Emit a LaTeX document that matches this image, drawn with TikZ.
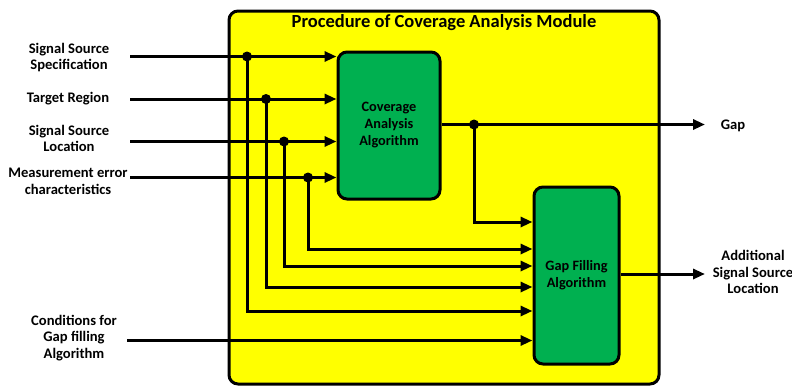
\documentclass[tikz,border=0pt]{standalone}
\usepackage{fontspec}
\setmainfont{Carlito}
\usetikzlibrary{arrows.meta}
\definecolor{ybg}{HTML}{FFFF00}
\definecolor{gbox}{HTML}{00B050}
\tikzset{
  lbl/.style={font=\bfseries\fontsize{14.6}{16.5}\selectfont, align=center, inner sep=0pt},
  algo/.style={draw=black, line width=3pt, fill=gbox, rounded corners=9pt, minimum width=#1, inner sep=0pt, font=\bfseries\fontsize{14.3}{17}\selectfont, align=center},
  conn/.style={line width=3pt, -{Triangle[length=12pt,width=10pt]}},
  jdot/.style={circle, fill=black, inner sep=0pt, minimum size=10pt},
}
\begin{document}
\begin{tikzpicture}[x=1pt,y=-1pt]
\useasboundingbox (0,0) rectangle (792,386);
% module frame
\node[draw=black, line width=3pt, fill=ybg, rounded corners=9pt, minimum width=430pt, minimum height=373pt, inner sep=0pt] (mod) at (444,197.5) {};
\node[font=\bfseries\fontsize{18.5}{21}\selectfont, inner sep=0pt] (title) at (444,23) {Procedure of Coverage Analysis Module};
% algorithm boxes
\node[algo=102pt, minimum height=147pt] (b1) at (389,125.5) {Coverage\\Analysis\\Algorithm};
\node[algo=85pt, minimum height=177pt] (b2) at (576.5,275.5) {Gap Filling\\Algorithm};
% input labels
\node[lbl] (l1) at (69,57.5) {Signal Source\\Specification};
\node[lbl] (l2) at (68,99) {Target Region};
\node[lbl] (l3) at (69,138.5) {Signal Source\\Location};
\node[lbl] (l4) at (68,181.5) {Measurement error\\characteristics};
\node[lbl] (l5) at (74,338) {Conditions for\\Gap filling\\Algorithm};
% output labels
\node[lbl] (o1) at (733,126) {Gap};
\node[lbl] (o2) at (753,272) {Additional\\Signal Source\\Location};
% input start points
\coordinate (s1) at (130,56.5);
\coordinate (s2) at (130,99);
\coordinate (s3) at (130,141.5);
\coordinate (s4) at (130,177.5);
\coordinate (s5) at (127,340.5);
% junctions
\node[jdot] (j1) at (247,56.5) {};
\node[jdot] (j2) at (266,99) {};
\node[jdot] (j3) at (284,141.5) {};
\node[jdot] (j4) at (308,177.5) {};
\node[jdot] (jg) at (474,124.5) {};
% outputs end points
\coordinate (e1) at (705,124.5);
\coordinate (e2) at (705,274);
% inputs to box 1
\draw[conn] (s1) -- (s1 -| b1.west);
\draw[conn] (s2) -- (s2 -| b1.west);
\draw[conn] (s3) -- (s3 -| b1.west);
\draw[conn] (s4) -- (s4 -| b1.west);
% branches to box 2
\draw[conn] (j1.center) |- ([yshift=-311pt]b2.west |- 0,0);
\draw[conn] (j2.center) |- ([yshift=-287pt]b2.west |- 0,0);
\draw[conn] (j3.center) |- ([yshift=-266pt]b2.west |- 0,0);
\draw[conn] (j4.center) |- ([yshift=-249pt]b2.west |- 0,0);
\draw[conn] (s5) -- (s5 -| b2.west);
% outputs
\draw[conn] (b1.east |- e1) -- (e1);
\draw[conn] (jg.center) |- ([yshift=-222pt]b2.west |- 0,0);
\draw[conn] (b2.east |- e2) -- (e2);
\end{tikzpicture}
\end{document}
